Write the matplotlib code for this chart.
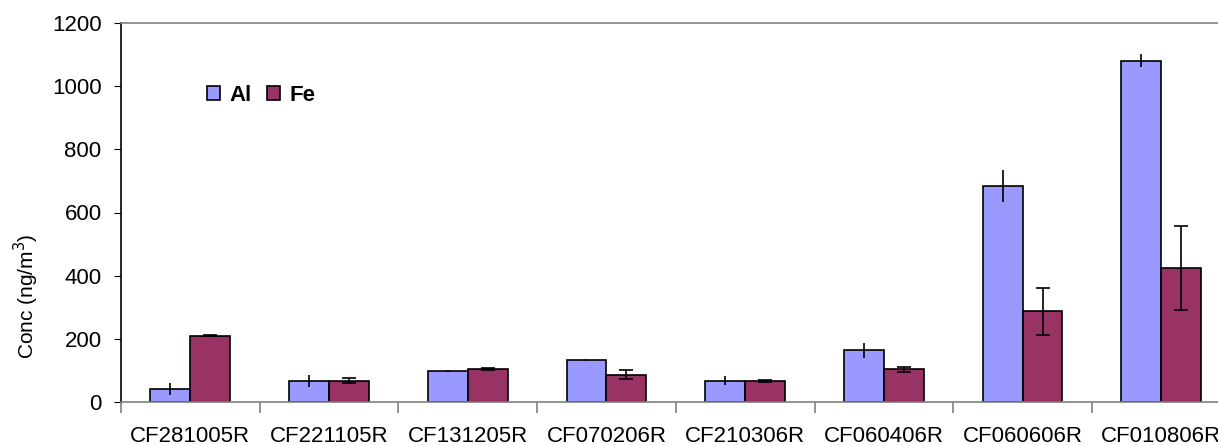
import matplotlib
matplotlib.use("Agg")
import matplotlib.pyplot as plt
import numpy as np

categories = ["CF281005R", "CF221105R", "CF131205R", "CF070206R",
              "CF210306R", "CF060406R", "CF060606R", "CF010806R"]
al_values = [41, 67, 99, 132, 67, 164, 684, 1081]
al_errors = [18, 18, 3, 3, 14, 24, 50, 20]
fe_values = [210, 67, 105, 86, 67, 104, 287, 424]
fe_errors = [2, 8, 4, 14, 3, 8, 75, 132]
y_ticks = [0, 200, 400, 600, 800, 1000, 1200]

plt.rcParams['font.family'] = ['Liberation Sans', 'DejaVu Sans']

fig = plt.figure(figsize=(12.18, 4.45), dpi=100)
ax = fig.add_axes([121/1218, 43/445, 1109.6/1218, 379/445])

x = np.arange(len(categories))
w = 0.288
err_kw = dict(ecolor='black', elinewidth=1.2, capsize=5, capthick=1.2)
ax.bar(x - w/2, al_values, w, color='#9999FF', edgecolor='black', linewidth=1.2,
       yerr=al_errors, error_kw=dict(ecolor='black', elinewidth=1.2, capsize=0), label='Al')
ax.bar(x + w/2, fe_values, w, color='#993366', edgecolor='black', linewidth=1.2,
       yerr=fe_errors, error_kw=err_kw, label='Fe')

ax.set_xlim(-0.5, 7.5)
ax.set_ylim(0, 1200)
ax.set_yticks(y_ticks)
ax.tick_params(axis='y', labelsize=16, length=5, direction='out', pad=9)

ax.set_xticks(x)
ax.set_xticklabels(categories, fontsize=16)
ax.tick_params(axis='x', which='major', length=0, pad=17)
ax.set_xticks(np.arange(-0.5, 8, 1), minor=True)
ax.tick_params(axis='x', which='minor', length=8, color='#808080', width=1.2)

ax.spines['right'].set_visible(False)
ax.spines['top'].set_color('#808080')
ax.spines['bottom'].set_color('#808080')
ax.spines['left'].set_color('black')
for s in ax.spines.values():
    s.set_linewidth(1.2)

ax.set_ylabel('Conc (ng/m$^3$)', fontsize=15)
ax.yaxis.set_label_coords(-0.072, 0.28)

leg = ax.legend(loc='upper left', bbox_to_anchor=(0.0775, 0.837), ncol=2, frameon=False,
                prop={'weight': 'bold', 'size': 16}, handlelength=0.6, handleheight=0.6,
                handletextpad=0.4, columnspacing=0.7, borderaxespad=0, borderpad=0)

fig.savefig('out.png', dpi=100)
